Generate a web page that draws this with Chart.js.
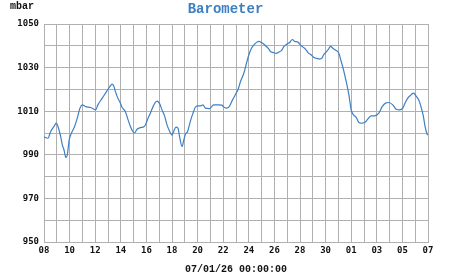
<!DOCTYPE html>
<html>
<head>
<meta charset="utf-8">
<script src="https://cdn.jsdelivr.net/npm/chart.js@4"></script>
<style>
html,body{margin:0;padding:0;background:#fff;}
#wrap{position:relative;width:451px;height:275px;}
</style>
</head>
<body>
<div id="wrap"><canvas id="c" width="451" height="275"></canvas></div>
<script>
// Days since 08 Dec 2025 00:00
const days = [0,0.31,0.52,0.78,0.96,1.09,1.30,1.43,1.56,1.71,1.82,1.97,2.08,2.39,2.60,2.81,2.99,3.25,3.64,4.03,4.21,4.55,4.88,5.14,5.32,5.45,5.58,5.77,5.97,6.10,6.36,6.57,6.75,6.94,7.06,7.27,7.53,7.74,7.92,8.13,8.31,8.52,8.70,8.83,9.01,9.22,9.43,9.61,9.82,10.00,10.13,10.31,10.47,10.60,10.78,10.91,11.06,11.22,11.43,11.64,11.82,12.00,12.21,12.42,12.60,12.94,13.25,13.64,13.90,14.00,14.26,14.47,14.73,14.99,15.17,15.35,15.61,15.82,16.00,16.21,16.47,16.78,16.99,17.25,17.51,17.69,17.90,18.16,18.36,18.55,18.75,19.01,19.19,19.40,19.58,19.84,20.03,20.23,20.44,20.62,20.88,21.09,21.32,21.53,21.71,21.84,22.00,22.18,22.39,22.57,22.83,23.01,23.22,23.40,23.61,23.82,24.00,24.18,24.39,24.60,24.78,25.04,25.25,25.56,25.82,26.16,26.42,26.68,26.94,27.25,27.51,27.77,28.03,28.18,28.42,28.68,28.88,29.06,29.27,29.45,29.64,29.77,29.90,29.97];
const pressure = [998.2,997.6,1000.7,1003,1004.5,1003,998.4,994.6,992.3,988.7,990,996.9,999.1,1003,1006.8,1011.4,1012.9,1012.1,1011.7,1010.6,1012.9,1016,1019,1021.3,1022.4,1021.6,1019,1016,1013.7,1011.8,1009.8,1006,1003,1000.7,1000,1001.7,1002.5,1002.7,1003.7,1006.8,1009.1,1012.1,1014,1014.6,1013.7,1010.6,1007.6,1003.7,1000.7,999,1000.7,1002.7,1002.2,998.1,993.8,996.5,999.6,1000.7,1005.3,1009.1,1011.8,1012.4,1012.4,1012.9,1011.4,1011.2,1012.9,1012.9,1012.8,1012.1,1011.4,1012.1,1015.2,1018,1020.1,1023.6,1027.4,1032,1035.8,1038.9,1040.9,1042,1041.5,1040.4,1038.9,1037.4,1036.9,1036.5,1037.2,1037.8,1039.7,1040.9,1041.5,1042.9,1042,1041.7,1040.4,1039.4,1038.4,1036.9,1035.8,1034.6,1034.2,1033.9,1034.3,1035.8,1036.9,1038.1,1039.7,1038.9,1037.8,1036.9,1032.8,1029,1023.6,1017.5,1010.6,1008.3,1007.2,1004.8,1004.5,1004.8,1006,1007.9,1007.9,1009.1,1012.1,1013.7,1014,1012.9,1010.9,1010.6,1011.4,1013.4,1016,1017.5,1018.3,1017,1015.2,1012.1,1007.6,1003,1000,999];
const dayLabels = ['08','09','10','11','12','13','14','15','16','17','18','19','20','21','22','23','24','25','26','27','28','29','30','31','01','02','03','04','05','06','07'];
const yTickValues = [950,970,990,1010,1030,1050];
const chartTitle = 'Barometer';
const unitLabel = 'mbar';
const xAxisTitle = '07/01/26 00:00:00';

const gridColor = '#b0b0b0';
const tickFont = {family:'"DejaVu Sans Mono", monospace', size:9, weight:'bold'};

const headerPlugin = {
  id:'headerText',
  afterDraw(chart){
    const ctx = chart.ctx;
    ctx.save();
    ctx.textBaseline = 'middle';
    ctx.font = 'bold 10px "Liberation Mono", monospace';
    ctx.fillStyle = '#111';
    ctx.textAlign = 'left';
    ctx.fillText(unitLabel, 10, 6);
    ctx.font = 'bold 14px "Liberation Mono", monospace';
    ctx.fillStyle = '#3d80c2';
    ctx.textAlign = 'center';
    ctx.fillText(chartTitle, chart.width / 2, 9);
    ctx.restore();
  }
};

new Chart(document.getElementById('c'), {
  type:'line',
  data:{
    datasets:[{
      data: days.map((d,i)=>({x:d, y:pressure[i]})),
      borderColor:'#3d7fc4',
      borderWidth:1.2,
      pointRadius:0,
      fill:false,
      cubicInterpolationMode:'monotone'
    }]
  },
  options:{
    responsive:false,
    animation:false,
    layout:{padding:{top:24,right:23,bottom:0,left:0}},
    plugins:{
      legend:{display:false},
      tooltip:{enabled:false},
      title:{display:false}
    },
    scales:{
      x:{
        type:'linear',
        min:0, max:30,
        afterFit(s){ s.height = 33; },
        border:{color:gridColor},
        grid:{color:gridColor, drawTicks:false},
        ticks:{
          stepSize:1,
          autoSkip:false,
          maxRotation:0,
          padding:3,
          color:'#111',
          font:tickFont,
          callback(v){ return (v%2===0) ? dayLabels[v] : ''; }
        },
        title:{
          display:true,
          text:xAxisTitle,
          color:'#111',
          font:{family:'"Liberation Mono", monospace', size:10, weight:'bold'},
          padding:{top:8,bottom:0}
        }
      },
      y:{
        min:950, max:1050,
        afterFit(s){ s.width = 44; },
        border:{color:gridColor},
        grid:{color:gridColor, drawTicks:false},
        ticks:{
          stepSize:10,
          autoSkip:false,
          padding:5,
          color:'#111',
          font:tickFont,
          callback(v){ return yTickValues.includes(v) ? String(v) : ''; }
        }
      }
    }
  },
  plugins:[headerPlugin]
});
</script>
</body>
</html>
